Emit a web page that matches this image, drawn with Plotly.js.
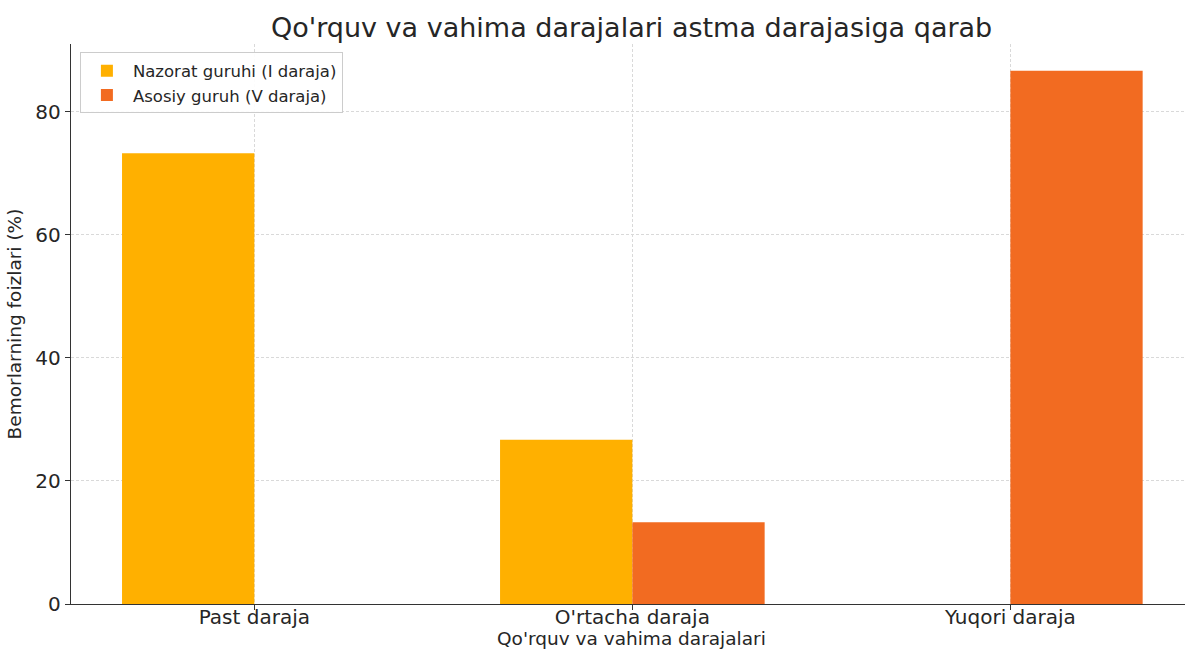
<!DOCTYPE html>
<html>
<head>
<meta charset="utf-8">
<script src="https://cdn.plot.ly/plotly-3.0.1.min.js"></script>
<style>html,body{margin:0;padding:0;background:#fff;}#chart{width:1185px;height:650px;}</style>
</head>
<body>
<div id="chart"></div>
<script>
const categories = ["Past daraja", "O'rtacha daraja", "Yuqori daraja"];
const seriesNames = ["Nazorat guruhi (I daraja)", "Asosiy guruh (V daraja)"];
const nazoratValues = [73.3, 26.7, 0];
const asosiyValues = [0, 13.3, 86.7];
const yTickValues = [0, 20, 40, 60, 80];
const xTitle = "Qo'rquv va vahima darajalari";

const FONT = "DejaVu Sans, Verdana, sans-serif";
const TXT = "#262626";
const traces = [
  {type: "bar", name: seriesNames[0], x: categories, y: nazoratValues, marker: {color: "#FFB000", line: {width: 0}}},
  {type: "bar", name: seriesNames[1], x: categories, y: asosiyValues, marker: {color: "#F26B21", line: {width: 0}}}
];
const layout = {
  width: 1185, height: 650,
  margin: {l: 71, r: 0, t: 44, b: 46},
  paper_bgcolor: "#fff", plot_bgcolor: "#fff",
  font: {family: FONT, color: TXT, size: 18},
  barmode: "group", bargap: 0.3, bargroupgap: 0,
  title: {text: "Qo'rquv va vahima darajalari astma darajasiga qarab", font: {family: FONT, size: 27, color: TXT}, x: 0.533, xanchor: "center", y: 0.958, yanchor: "middle"},
  xaxis: {
    type: "category", range: [-0.485, 2.462],
    showline: true, linecolor: "#333", linewidth: 1.3,
    ticks: "outside", ticklen: 5, tickcolor: "#333",
    ticklabelstandoff: -10,
    showgrid: true, gridcolor: "#d9d9d9", griddash: "3px,2px", gridwidth: 1,
    tickfont: {family: FONT, size: 20, color: TXT},
    zeroline: false
  },
  yaxis: {
    range: [0, 91.05], tickvals: yTickValues,
    showline: true, linecolor: "#333", linewidth: 1.3,
    ticks: "outside", ticklen: 5, tickcolor: "#333",
    showgrid: true, gridcolor: "#d9d9d9", griddash: "3px,2px", gridwidth: 1,
    tickfont: {family: FONT, size: 20, color: TXT},
    title: {text: "Bemorlarning foizlari (%)", font: {family: FONT, size: 18.5, color: TXT}, standoff: 8},
    zeroline: false
  },
  annotations: [{
    text: xTitle, xref: "paper", yref: "paper", x: 0.503, y: -0.0815,
    xanchor: "center", yanchor: "bottom", showarrow: false, borderpad: 0,
    font: {family: FONT, size: 18.5, color: TXT}
  }],
  legend: {
    x: 0.008, y: 0.985, xanchor: "left", yanchor: "top",
    bgcolor: "rgba(255,255,255,0.9)", bordercolor: "#cccccc", borderwidth: 1,
    font: {family: FONT, size: 16.5, color: TXT},
    traceorder: "normal", itemwidth: 42, tracegroupgap: 0
  },
  showlegend: true
};
Plotly.newPlot("chart", traces, layout, {staticPlot: true, displayModeBar: false});
</script>
</body>
</html>
